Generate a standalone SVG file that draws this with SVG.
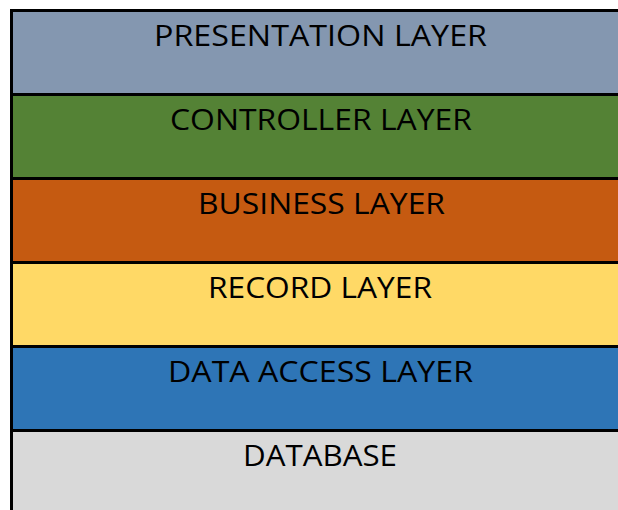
<svg xmlns="http://www.w3.org/2000/svg" width="618" height="510" viewBox="0 0 618 510">
  <style>
    .lbl { font-family: "Open Sans", "Liberation Sans", Arial, sans-serif; font-size: 29.5px; fill: #000; text-anchor: middle; }
    .rule { stroke: #000; stroke-width: 3; fill: none; }
  </style>
  <rect width="618" height="510" fill="#fff"/>
  <!-- layer bands -->
  <g id="presentation">
    <rect x="11" y="10" width="607" height="86" fill="#8497B0"/>
    <text class="lbl" x="320.5" y="46" textLength="333" lengthAdjust="spacingAndGlyphs">PRESENTATION LAYER</text>
  </g>
  <g id="controller">
    <rect x="11" y="94" width="607" height="86" fill="#548235"/>
    <text class="lbl" x="321" y="130" textLength="302" lengthAdjust="spacingAndGlyphs">CONTROLLER LAYER</text>
  </g>
  <g id="business">
    <rect x="11" y="178" width="607" height="86" fill="#C55A11"/>
    <text class="lbl" x="321.5" y="214" textLength="247" lengthAdjust="spacingAndGlyphs">BUSINESS LAYER</text>
  </g>
  <g id="record">
    <rect x="11" y="262" width="607" height="86" fill="#FFD966"/>
    <text class="lbl" x="320" y="298" textLength="224" lengthAdjust="spacingAndGlyphs">RECORD LAYER</text>
  </g>
  <g id="data-access">
    <rect x="11" y="346" width="607" height="86" fill="#2E75B6"/>
    <text class="lbl" x="320.5" y="382" textLength="305" lengthAdjust="spacingAndGlyphs">DATA ACCESS LAYER</text>
  </g>
  <g id="database">
    <rect x="11" y="430" width="607" height="80" fill="#D9D9D9"/>
    <text class="lbl" x="320" y="466" textLength="154" lengthAdjust="spacingAndGlyphs">DATABASE</text>
  </g>
  <!-- borders and dividers -->
  <g id="rules">
    <line class="rule" x1="11.5" y1="9" x2="11.5" y2="510"/>
    <line class="rule" x1="10" y1="10.5" x2="618" y2="10.5"/>
    <line class="rule" x1="10" y1="94.5" x2="618" y2="94.5"/>
    <line class="rule" x1="10" y1="178.5" x2="618" y2="178.5"/>
    <line class="rule" x1="10" y1="262.5" x2="618" y2="262.5"/>
    <line class="rule" x1="10" y1="346.5" x2="618" y2="346.5"/>
    <line class="rule" x1="10" y1="430.5" x2="618" y2="430.5"/>
  </g>
</svg>
